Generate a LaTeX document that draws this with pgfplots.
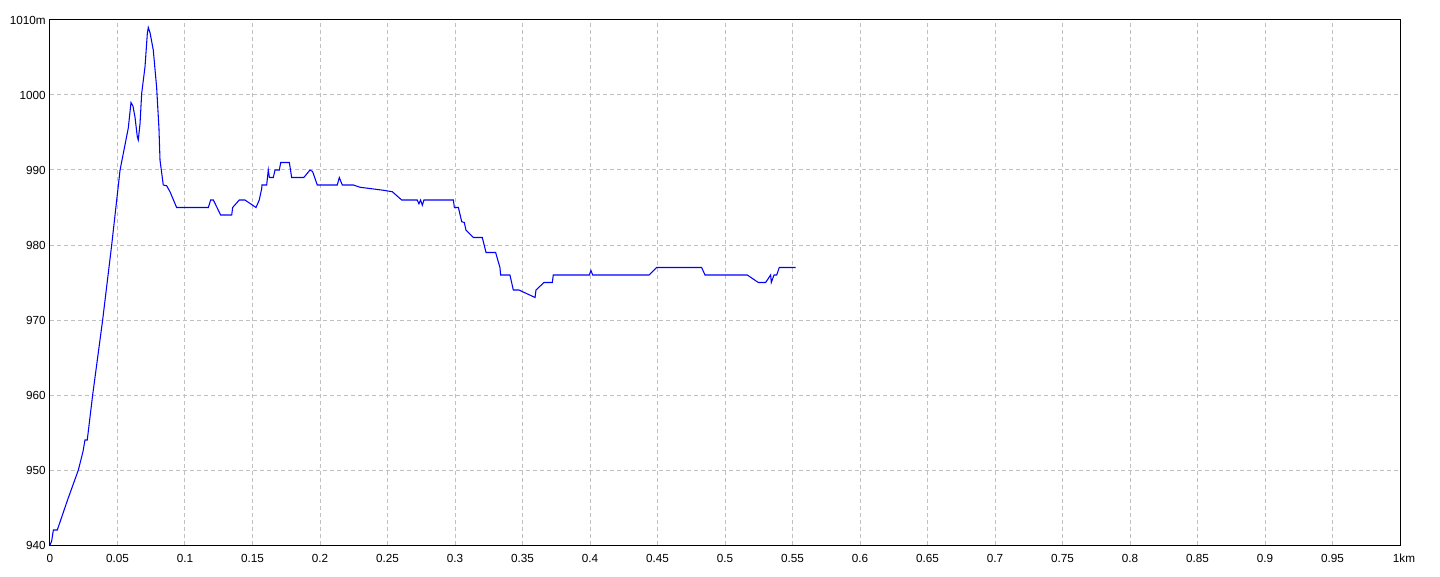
\documentclass[border=0pt]{standalone}
\usepackage{fontspec}
\setmainfont{Liberation Sans}
\usepackage{pgfplots}
\pgfplotsset{compat=1.18}
\definecolor{gridgray}{RGB}{192,192,192}
\begin{document}
\begin{tikzpicture}
\useasboundingbox (-37.5pt,-23.25pt) rectangle (1042.5pt,408.75pt);
\begin{axis}[
    at={(0,0)}, anchor=south west,
    scale only axis,
    width=1012.5pt, height=393.75pt,
    xmin=0, xmax=1, ymin=940, ymax=1010,
    xtick={0,0.05,0.1,0.15,0.2,0.25,0.3,0.35,0.4,0.45,0.5,0.55,0.6,0.65,0.7,0.75,0.8,0.85,0.9,0.95,1},
    xticklabels={0,0.05,0.1,0.15,0.2,0.25,0.3,0.35,0.4,0.45,0.5,0.55,0.6,0.65,0.7,0.75,0.8,0.85,0.9,0.95,\hspace*{6pt}1km},
    ytick={940,950,960,970,980,990,1000,1010},
    yticklabels={940,950,960,970,980,990,1000,1010m},
    major tick length=0pt,
    grid=major,
    major grid style={gridgray, dash pattern=on 3pt off 2.25pt, line width=0.75pt},
    axis line style={black, line width=0.75pt},
    ticklabel style={font=\fontsize{8.8}{10}\selectfont},
    yticklabel style={anchor=east, inner sep=0pt, xshift=-3pt},
    xticklabel style={anchor=base, inner sep=0pt, yshift=-13pt},
]
\addplot[blue, line width=0.8pt] coordinates {
(0, 940) (0.0012, 940.5) (0.0025, 942) (0.0054, 942) (0.013, 946)
(0.021, 950) (0.0245, 952.5) (0.0259, 954) (0.0276, 954) (0.0316, 960)
(0.039, 970) (0.0457, 980) (0.0519, 990) (0.058, 995.6) (0.060, 999)
(0.0615, 998.5) (0.063, 997) (0.0647, 994.4) (0.0654, 994) (0.0667, 996.2)
(0.0679, 1000.2) (0.0704, 1003.8) (0.0721, 1008.2) (0.0728, 1009) (0.0741, 1008.3)
(0.0765, 1006) (0.0790, 1001) (0.0807, 995.6) (0.0815, 991.3) (0.0839, 988)
(0.0864, 987.9) (0.0889, 987.1) (0.0938, 985) (0.1173, 985) (0.1190, 986)
(0.1210, 986) (0.1264, 984) (0.1346, 984) (0.1353, 985) (0.1402, 986)
(0.1444, 986) (0.1526, 985) (0.1550, 986) (0.1568, 987.5) (0.1570, 988)
(0.1605, 988) (0.1617, 990) (0.1625, 989) (0.1654, 989) (0.1667, 990)
(0.1699, 990) (0.1709, 991) (0.1773, 991) (0.1790, 989) (0.1880, 989)
(0.1926, 990) (0.1945, 989.8) (0.1980, 988) (0.2128, 988) (0.2143, 989)
(0.2165, 988) (0.2247, 988) (0.2296, 987.7) (0.2383, 987.5) (0.2469, 987.3)
(0.2536, 987.1) (0.2605, 986) (0.2720, 986) (0.2733, 985.5) (0.2745, 986)
(0.2758, 985.3) (0.2770, 986) (0.2988, 986) (0.2995, 985) (0.3025, 985)
(0.3050, 983.1) (0.3069, 983) (0.3081, 982) (0.3136, 981) (0.3202, 981)
(0.3230, 979) (0.3301, 979) (0.3333, 977) (0.3338, 976) (0.3407, 976)
(0.3432, 974) (0.3474, 974) (0.3593, 973) (0.3600, 974) (0.3659, 975)
(0.3721, 975) (0.3728, 976) (0.3995, 976) (0.4007, 976.6) (0.4020, 976)
(0.4437, 976) (0.4494, 977) (0.4827, 977) (0.4852, 976) (0.5165, 976)
(0.5247, 975) (0.5301, 975) (0.5338, 976) (0.5343, 975) (0.5363, 976)
(0.5383, 976) (0.5402, 977) (0.5524, 977)
};
\end{axis}
\end{tikzpicture}
\end{document}
